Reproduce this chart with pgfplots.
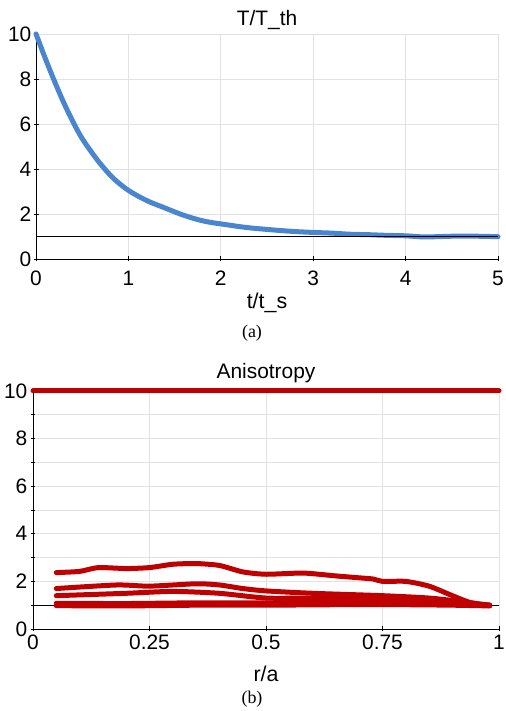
\documentclass[border=0pt]{standalone}
\usepackage{fontspec}
\setmainfont{Liberation Sans}
\newfontfamily\capfont{Liberation Serif}
\usepackage{pgfplots}
\pgfplotsset{compat=1.18}
\definecolor{myblue}{RGB}{74,134,208}
\definecolor{myred}{RGB}{192,0,0}
\definecolor{gridc}{RGB}{226,226,226}
\pgfplotsset{
  common/.style={
    scale only axis, axis lines=left, clip=false,
    axis line style={-, black, line width=0.8bp},
    tick style={black, line width=0.8bp},
    major tick length=5bp, minor tick length=5bp,
    tick align=center,
    grid=both,
    major grid style={gridc, line width=0.7bp},
    minor grid style={gridc, line width=0.7bp},
    /pgf/number format/assume math mode=true,
    ticklabel style={font=\fontsize{21}{21}\selectfont, inner sep=1bp},
    title style={font=\fontsize{21}{21}\selectfont},
    xlabel style={font=\fontsize{21.5}{21.5}\selectfont},
  }
}
\begin{document}
\begin{tikzpicture}[x=1bp,y=1bp]
\path (0,0) rectangle (504,711);
% ---------------- (a)
\begin{axis}[common,
  at={(36bp,452bp)}, anchor=south west,
  width=462bp, height=225bp,
  xmin=0, xmax=5, ymin=0, ymax=10,
  xtick={0,1,2,3,4,5}, ytick={0,2,4,6,8,10},
  xticklabel style={yshift=-8bp},
  yticklabel style={xshift=-1bp},
  title={T/T\_th}, title style={yshift=-5bp},
  xlabel={t/t\_s}, xlabel style={yshift=-3bp},
]
\addplot[myblue, line width=5bp, line join=round, line cap=round, smooth, tension=0.5] coordinates {
(0,10) (0.1,8.92) (0.2,7.9) (0.3,6.95) (0.4,6.1) (0.5,5.35) (0.66,4.42)
(0.8,3.74) (0.9,3.36) (1.0,3.05) (1.12,2.76) (1.24,2.52) (1.4,2.26)
(1.56,2.0) (1.7,1.81) (1.8,1.7) (1.9,1.62) (2.0,1.56) (2.1,1.5)
(2.2,1.44) (2.3,1.39) (2.4,1.35) (2.6,1.28) (2.8,1.22) (3.0,1.18) (3.2,1.15)
(3.4,1.1) (3.6,1.08) (3.8,1.05) (4.0,1.03) (4.2,0.98) (4.4,1.0) (4.6,1.02)
(4.8,1.01) (5.0,0.99)};
\addplot[black, line width=0.9bp] coordinates {(0,1) (5,1)};
\end{axis}
\node[font=\capfont\fontsize{18}{18}\selectfont] at (252,378) {(a)};
% ---------------- (b)
\begin{axis}[common,
  at={(33bp,82bp)}, anchor=south west,
  width=466bp, height=238bp,
  xmin=0, xmax=1, ymin=0, ymax=10,
  xtick={0,0.25,0.5,0.75,1}, xticklabels={0,0.25,0.5,0.75,1},
  ytick={0,2,4,6,8,10}, minor ytick={1,3,5,7,9},
  xticklabel style={yshift=-2bp},
  yticklabel style={xshift=-2bp},
  title={Anisotropy}, title style={yshift=-1bp},
  xlabel={r/a}, xlabel style={yshift=-12bp},
]
\addplot[black, line width=0.9bp] coordinates {(0,1) (1,1)};
\addplot[myred, line width=5bp, line cap=round] coordinates {(0,10) (1,10)};
\addplot[myred, line width=5bp, line join=round, line cap=round, smooth, tension=0.4] coordinates {
(0.05,2.37) (0.1,2.42) (0.14,2.58) (0.2,2.54) (0.25,2.58) (0.3,2.72) (0.35,2.75)
(0.4,2.67) (0.45,2.4) (0.5,2.3) (0.58,2.35) (0.65,2.23) (0.7,2.15) (0.73,2.1) (0.75,2.0)
(0.8,2.0) (0.85,1.8) (0.9,1.4) (0.94,1.1) (0.98,0.98)};
\addplot[myred, line width=5bp, line join=round, line cap=round, smooth, tension=0.4] coordinates {
(0.05,1.7) (0.18,1.85) (0.25,1.8) (0.35,1.9) (0.4,1.85) (0.45,1.7) (0.5,1.6)
(0.6,1.5) (0.75,1.4) (0.85,1.3) (0.92,1.15) (0.98,1.0)};
\addplot[myred, line width=5bp, line join=round, line cap=round, smooth, tension=0.4] coordinates {
(0.05,1.4) (0.2,1.5) (0.3,1.58) (0.4,1.5) (0.5,1.3) (0.6,1.3) (0.75,1.27)
(0.85,1.2) (0.92,1.08) (0.98,1.0)};
\addplot[myred, line width=5bp, line join=round, line cap=round, smooth, tension=0.4] coordinates {
(0.05,1.08) (0.2,1.07) (0.35,1.1) (0.5,1.1) (0.65,1.12) (0.8,1.12) (0.9,1.05) (0.98,1.0)};
\addplot[myred, line width=5bp, line join=round, line cap=round, smooth, tension=0.4] coordinates {
(0.05,0.98) (0.2,0.97) (0.35,1.0) (0.5,1.0) (0.65,1.02) (0.8,1.02) (0.9,1.0) (0.98,0.97)};
\end{axis}
\node[font=\capfont\fontsize{18}{18}\selectfont] at (252,12) {(b)};
\end{tikzpicture}
\end{document}
